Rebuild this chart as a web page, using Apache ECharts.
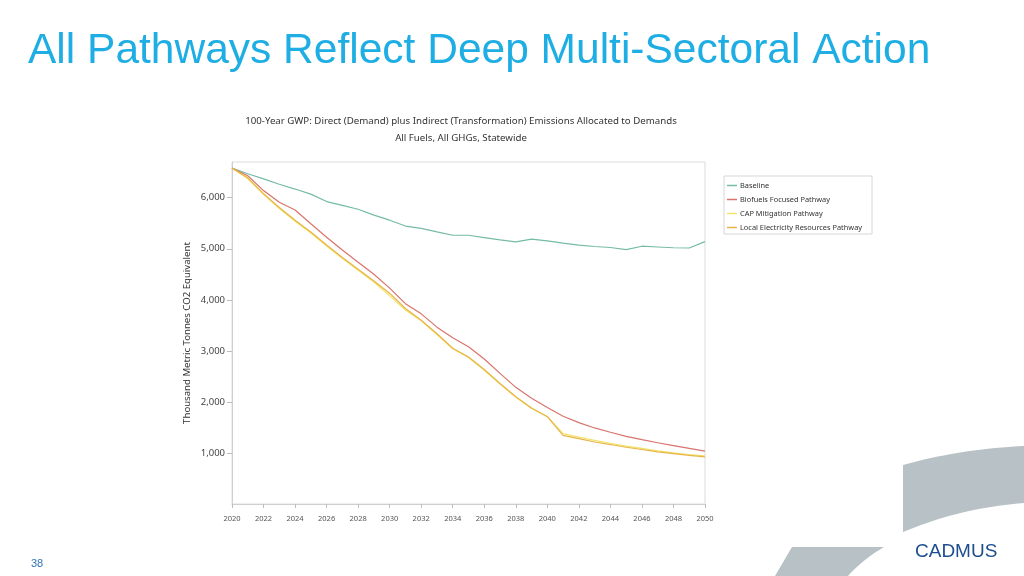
<!DOCTYPE html>
<html>
<head>
<meta charset="utf-8">
<script src="https://cdn.jsdelivr.net/npm/echarts@6/dist/echarts.min.js"></script>
<style>
html,body{margin:0;padding:0;background:#fff;}
#c{width:1024px;height:576px;}
</style>
</head>
<body>
<div id="c"></div>
<script>
const years = ['2020','2021','2022','2023','2024','2025','2026','2027','2028','2029','2030','2031','2032','2033','2034','2035','2036','2037','2038','2039','2040','2041','2042','2043','2044','2045','2046','2047','2048','2049','2050'];
const baseline = [6580,6470,6370,6265,6170,6070,5925,5850,5775,5660,5560,5445,5400,5330,5265,5265,5220,5175,5135,5190,5155,5110,5070,5045,5025,4985,5050,5035,5020,5015,5140];
const biofuels = [6580,6430,6140,5910,5760,5490,5225,4975,4735,4500,4230,3925,3725,3465,3255,3080,2840,2560,2285,2070,1890,1720,1595,1490,1405,1325,1260,1200,1145,1090,1035];
const capMitigation = [6580,6370,6060,5790,5540,5310,5055,4810,4580,4350,4080,3800,3590,3320,3040,2870,2620,2350,2090,1870,1715,1380,1310,1245,1190,1133,1088,1041,1002,970,943];
const localElectricity = [6580,6390,6080,5810,5560,5330,5075,4830,4600,4370,4130,3830,3600,3335,3050,2880,2635,2360,2100,1880,1710,1345,1280,1215,1165,1112,1068,1022,988,952,925];
const seriesNames = ['Baseline','Biofuels Focused Pathway','CAP Mitigation Pathway','Local Electricity Resources Pathway'];
const seriesColors = ['#76bba8','#d8746c','#f2e36c','#e7b545'];
const seriesData = [baseline, biofuels, capMitigation, localElectricity];

// decorative curved shapes (quadratic curves sampled into polygons)
function quad(p0, c, p1, n) {
  const pts = [];
  for (let i = 0; i <= n; i++) {
    const t = i / n, u = 1 - t;
    pts.push([u*u*p0[0] + 2*u*t*c[0] + t*t*p1[0], u*u*p0[1] + 2*u*t*c[1] + t*t*p1[1]]);
  }
  return pts;
}
const shapeA = quad([903,465],[960,449],[1024,446],20).concat(quad([1024,503],[960,508],[903,532],20));
const shapeB = [[792,547],[884,547]].concat(quad([884,547],[862,560],[848,576],10)).concat([[775,576]]);

const chart = echarts.init(document.getElementById('c'));
const font = '"Noto Sans", "Open Sans", sans-serif';
chart.setOption({
  animation: false,
  backgroundColor: '#ffffff',
  title: [
    {
      text: 'All Pathways Reflect Deep Multi-Sectoral Action',
      left: 28, top: 30, padding: 0,
      textStyle: {fontFamily: '"Liberation Sans", Arial, sans-serif', fontSize: 42.5, fontWeight: 'normal', color: '#1eaee3'}
    },
    {
      text: '100-Year GWP: Direct (Demand) plus Indirect (Transformation) Emissions Allocated to Demands\nAll Fuels, All GHGs, Statewide',
      left: 456, top: 108, textAlign: 'center',
      textStyle: {fontFamily: font, fontSize: 9.7, fontWeight: 'normal', color: '#333', lineHeight: 17}
    }
  ],
  legend: {
    orient: 'vertical',
    left: 724, top: 176,
    backgroundColor: '#fff',
    borderColor: '#d6d6d6', borderWidth: 1, borderRadius: 0,
    padding: [4, 10, 1, 3],
    itemWidth: 10, itemHeight: 1.5, itemGap: 3,
    icon: 'rect',
    textStyle: {fontFamily: font, fontSize: 7.4, color: '#333', lineHeight: 11, padding: [0, 0, 0, -2]},
    data: seriesNames
  },
  grid: {left: 232, right: 319, top: 162, bottom: 72, show: true, borderColor: '#dcdcdc', borderWidth: 1, containLabel: false},
  xAxis: {
    type: 'category', data: years, boundaryGap: false,
    axisLine: {lineStyle: {color: '#cfcfcf'}},
    axisTick: {show: true, interval: 1, length: 4, lineStyle: {color: '#bdbdbd'}},
    axisLabel: {interval: 1, fontFamily: font, fontSize: 7.5, color: '#555', margin: 11},
    splitLine: {show: false}
  },
  yAxis: {
    type: 'value', min: 0, max: 6700, interval: 1000,
    name: 'Thousand Metric Tonnes CO2 Equivalent', nameLocation: 'middle', nameGap: 40,
    nameTextStyle: {fontFamily: font, fontSize: 9.6, color: '#333'},
    axisLine: {show: true, lineStyle: {color: '#cfcfcf'}},
    axisTick: {show: true, length: 5, lineStyle: {color: '#bdbdbd'}},
    axisLabel: {fontFamily: font, fontSize: 9.5, color: '#444', margin: 7, showMinLabel: false, showMaxLabel: false},
    splitLine: {show: false}
  },
  series: seriesNames.map((n, i) => ({
    name: n, type: 'line', data: seriesData[i], showSymbol: false, symbol: 'none',
    lineStyle: {width: 1.2, color: seriesColors[i]}, itemStyle: {color: seriesColors[i]},
    z: 2 + i
  })),
  graphic: [
    {type: 'polygon', shape: {points: shapeA}, style: {fill: '#b8c1c6'}, silent: true},
    {type: 'polygon', shape: {points: shapeB}, style: {fill: '#b8c1c6'}, silent: true},
    {type: 'text', left: 915, top: 542, style: {text: 'CADMUS', fontFamily: '"Liberation Sans", Arial, sans-serif', fontSize: 19, fill: '#1d4e8f'}},
    {type: 'text', left: 31, top: 558, style: {text: '38', fontFamily: '"Liberation Sans", Arial, sans-serif', fontSize: 11, fill: '#2e75b6'}}
  ]
});
</script>
</body>
</html>
